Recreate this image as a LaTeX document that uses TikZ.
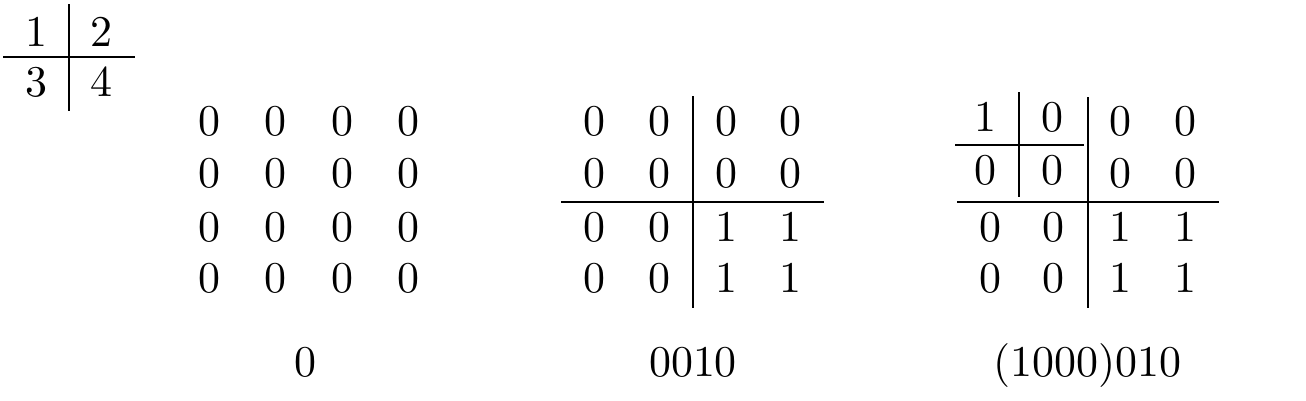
\documentclass[tikz,border=0pt]{standalone}
\usepackage{amsmath}
\usepackage{amssymb}
\usepackage{tikz}

\begin{document}
\begin{tikzpicture}[line width = 0.4pt,
                    cell/.style = {inner sep = 0pt},
                    caplabel/.style = {inner sep = 0pt, anchor = base},
                    bar/.style = {draw, line width = 0.45pt}]
  \useasboundingbox (0,0) rectangle (10.448,-3.2);

  \node [cell] (T1) at (0.288,-0.256) {1};
  \node [cell] (T2) at (0.808,-0.256) {2};
  \node [cell] (T3) at (0.288,-0.656) {3};
  \node [cell] (T4) at (0.808,-0.656) {4};
  \draw [bar] (0.552,-0.032) -- (0.552,-0.888);
  \draw [bar] (0.024,-0.456) -- (1.08,-0.456);

  \node [cell] (A11) at (1.672,-0.97) {0};
  \node [cell] (A12) at (2.204,-0.97) {0};
  \node [cell] (A13) at (2.736,-0.97) {0};
  \node [cell] (A14) at (3.268,-0.97) {0};
  \node [cell] (A21) at (1.672,-1.385) {0};
  \node [cell] (A22) at (2.204,-1.385) {0};
  \node [cell] (A23) at (2.736,-1.385) {0};
  \node [cell] (A24) at (3.268,-1.385) {0};
  \node [cell] (A31) at (1.672,-1.815) {0};
  \node [cell] (A32) at (2.204,-1.815) {0};
  \node [cell] (A33) at (2.736,-1.815) {0};
  \node [cell] (A34) at (3.268,-1.815) {0};
  \node [cell] (A41) at (1.672,-2.225) {0};
  \node [cell] (A42) at (2.204,-2.225) {0};
  \node [cell] (A43) at (2.736,-2.225) {0};
  \node [cell] (A44) at (3.268,-2.225) {0};
  \node [caplabel] (A) at (2.44,-3.008) {0};

  \node [cell] (B11) at (4.752,-0.97) {0};
  \node [cell] (B12) at (5.272,-0.97) {0};
  \node [cell] (B13) at (5.808,-0.97) {0};
  \node [cell] (B14) at (6.32,-0.97) {0};
  \node [cell] (B21) at (4.752,-1.385) {0};
  \node [cell] (B22) at (5.272,-1.385) {0};
  \node [cell] (B23) at (5.808,-1.385) {0};
  \node [cell] (B24) at (6.32,-1.385) {0};
  \node [cell] (B31) at (4.752,-1.815) {0};
  \node [cell] (B32) at (5.272,-1.815) {0};
  \node [cell] (B33) at (5.808,-1.815) {1};
  \node [cell] (B34) at (6.32,-1.815) {1};
  \node [cell] (B41) at (4.752,-2.225) {0};
  \node [cell] (B42) at (5.272,-2.225) {0};
  \node [cell] (B43) at (5.808,-2.225) {1};
  \node [cell] (B44) at (6.32,-2.225) {1};
  \draw [bar] (5.544,-0.768) -- (5.544,-2.464);
  \draw [bar] (4.488,-1.616) -- (6.592,-1.616);
  \node [caplabel] (B) at (5.544,-3.008) {0010};

  \node [cell] (C11) at (7.88,-0.936) {1};
  \node [cell] (C12) at (8.416,-0.936) {0};
  \node [cell] (C21) at (7.88,-1.36) {0};
  \node [cell] (C22) at (8.416,-1.36) {0};
  \draw [bar] (8.152,-0.736) -- (8.152,-1.576);
  \draw [bar] (7.64,-1.16) -- (8.672,-1.16);
  \node [cell] (C13) at (8.96,-0.97) {0};
  \node [cell] (C14) at (9.48,-0.97) {0};
  \node [cell] (C23) at (8.96,-1.385) {0};
  \node [cell] (C24) at (9.48,-1.385) {0};
  \node [cell] (C31) at (7.92,-1.815) {0};
  \node [cell] (C32) at (8.424,-1.815) {0};
  \node [cell] (C33) at (8.96,-1.815) {1};
  \node [cell] (C34) at (9.48,-1.815) {1};
  \node [cell] (C41) at (7.92,-2.225) {0};
  \node [cell] (C42) at (8.424,-2.225) {0};
  \node [cell] (C43) at (8.96,-2.225) {1};
  \node [cell] (C44) at (9.48,-2.225) {1};
  \draw [bar] (8.704,-0.776) -- (8.704,-2.464);
  \draw [bar] (7.656,-1.616) -- (9.752,-1.616);
  \node [caplabel] (C) at (8.696,-3.008) {(1000)010};
\end{tikzpicture}
\end{document}
